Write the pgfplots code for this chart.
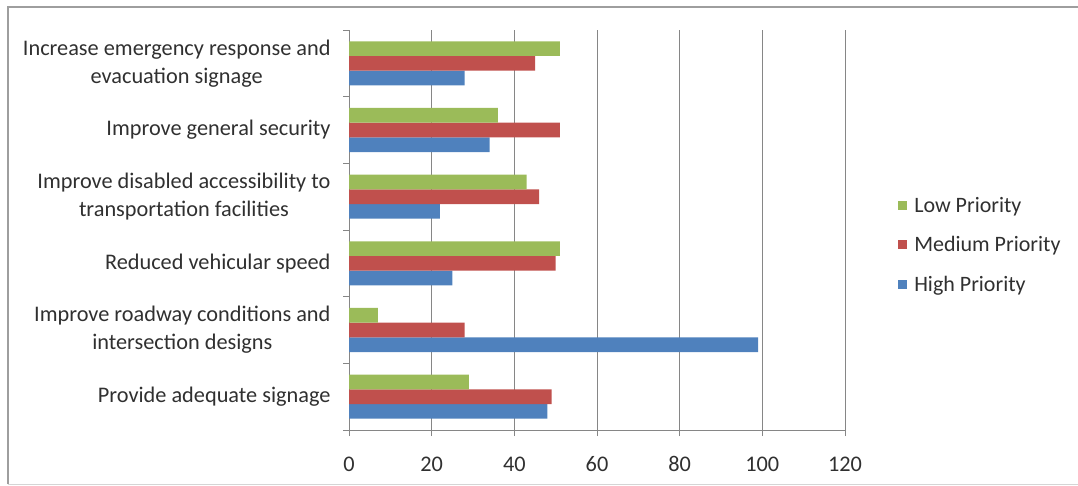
\documentclass[border=0pt]{standalone}
\usepackage{pgfplots}
\pgfplotsset{compat=1.18}
\usepackage{fontspec}
\setmainfont{Carlito}
\definecolor{cHigh}{HTML}{4F81BD}
\definecolor{cMed}{HTML}{C0504D}
\definecolor{cLow}{HTML}{9BBB59}
\definecolor{axgray}{HTML}{868686}
\definecolor{txt}{HTML}{303030}
\begin{document}
\begin{tikzpicture}[x=1pt,y=1pt]
\useasboundingbox (0,0) rectangle (1078,485);
\draw[axgray!80, line width=1.2pt] (8,0.6) -- (8,478) -- (1078,478);
\draw[axgray!35, line width=1pt] (8,0.6) -- (1078,0.6);
\begin{axis}[
  at={(349pt,55pt)}, anchor=south west, scale only axis,
  width=496pt, height=400pt,
  xbar, bar width=14.7pt,
  xmin=0, xmax=120, ymin=-0.5, ymax=5.5,
  xtick={0,20,...,120},
  ytick={-0.5,0.5,1.5,2.5,3.5,4.5,5.5},
  yticklabels={},
  extra y ticks={0,1,2,3,4,5},
  extra y tick labels={{Provide adequate signage},{Improve roadway conditions and\\intersection designs},{Reduced vehicular speed},{Improve disabled accessibility to\\transportation facilities},{Improve general security},{Increase emergency response and\\evacuation signage}},
  extra y tick style={major tick length=0pt, yticklabel style={align=center, xshift=-15pt}},
  axis lines*=left,
  axis line style={axgray, line width=0.9pt},
  xmajorgrids, grid style={axgray, line width=0.9pt},
  tick align=outside,
  major tick length=6pt,
  tick style={axgray, line width=0.9pt},
  ticklabel style={font=\fontsize{22.3}{28}\selectfont, text=txt},
  /pgf/number format/assume math mode=true,
  xticklabel style={yshift=-17pt},
  legend style={at={(1.107,0.4625)}, anchor=west, draw=none, fill=none,
    font=\fontsize{22}{26}\selectfont, text=txt, row sep=19pt, inner xsep=0pt,
    /tikz/every odd column/.append style={column sep=5pt}},
  legend cell align=left,
  legend image code/.code={\fill[#1] (0pt,-4.5pt) rectangle (9pt,4.5pt);},
  reverse legend,
]
\addplot[fill=cHigh, draw=none, bar shift=-14.7pt] coordinates {(48,0) (99,1) (25,2) (22,3) (34,4) (28,5)};
\addplot[fill=cMed, draw=none, bar shift=0pt] coordinates {(49,0) (28,1) (50,2) (46,3) (51,4) (45,5)};
\addplot[fill=cLow, draw=none, bar shift=14.7pt] coordinates {(29,0) (7,1) (51,2) (43,3) (36,4) (51,5)};
\legend{High Priority, Medium Priority, Low Priority}
\end{axis}
\end{tikzpicture}
\end{document}
